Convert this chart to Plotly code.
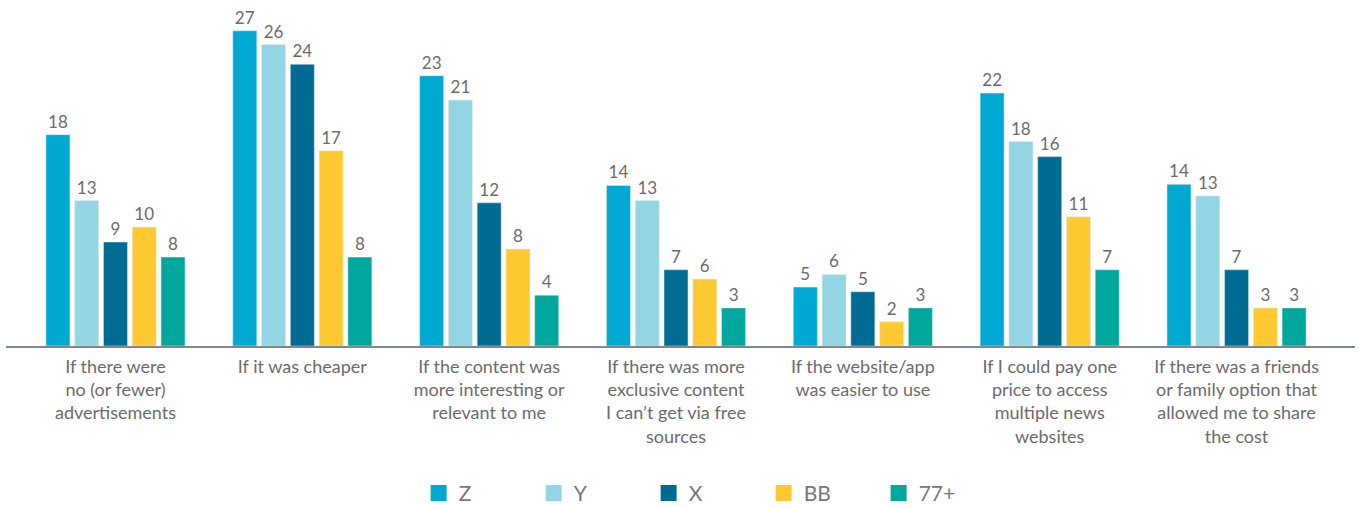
import plotly.graph_objects as go

# categories (x axis labels)
reasons = [
    'If there were<br>no (or fewer)<br>advertisements',
    'If it was cheaper',
    'If the content was<br>more interesting or<br>relevant to me',
    'If there was more<br>exclusive content<br>I can\u2019t get via free<br>sources',
    'If the website/app<br>was easier to use',
    'If I could pay one<br>price to access<br>multiple news<br>websites',
    'If there was a friends<br>or family option that<br>allowed me to share<br>the cost',
]

# series values (labels shown rounded)
gen_z = [18.3, 27.3, 23.4, 13.9, 5.1, 21.9, 14.0]
gen_y = [12.6, 26.1, 21.3, 12.6, 6.2, 17.7, 13.0]
gen_x = [9.0, 24.4, 12.4, 6.6, 4.7, 16.4, 6.6]
boomers = [10.3, 16.9, 8.4, 5.8, 2.1, 11.2, 3.3]
over77 = [7.7, 7.7, 4.4, 3.3, 3.3, 6.6, 3.3]

series_names = ['Z', 'Y', 'X', 'BB', '77+']
series_values = [gen_z, gen_y, gen_x, boomers, over77]
colors = ['#00A9D1', '#94D5E3', '#006B93', '#FFC931', '#00A79D']

LABEL_GREY = '#6b6b6b'
FONT = 'Lato, sans-serif'

fig = go.Figure()

for name, vals, col in zip(series_names, series_values, colors):
    fig.add_trace(go.Bar(x=reasons, y=vals, name=name, marker_color=col,
                         texttemplate='%{y:.0f}', textposition='outside',
                         textfont=dict(size=17, color=LABEL_GREY, family=FONT),
                         cliponaxis=False, showlegend=False))
    # legend entry with a bigger square swatch
    fig.add_trace(go.Scatter(x=[None], y=[None], mode='markers', name=name,
                             marker=dict(symbol='square', size=16, color=col)))

fig.update_xaxes(range=[-0.586, 6.634], showline=True, linecolor='#7f8790', linewidth=2,
                 ticks='', ticklabelstandoff=3, showgrid=False,
                 tickfont=dict(size=18, color=LABEL_GREY, family=FONT))
fig.update_yaxes(range=[0, 28.23], visible=False, showgrid=False)

fig.update_layout(width=1359, height=506, barmode='group', bargap=0.23, bargroupgap=0.165,
                  plot_bgcolor='white', paper_bgcolor='white',
                  margin=dict(l=6, r=4, t=20, b=160),
                  legend=dict(orientation='h', x=0.519, xanchor='center', yref='container',
                              y=0.025, yanchor='middle', entrywidth=70, itemwidth=30,
                              font=dict(size=21, color='#777777', family=FONT)))

# drop the page's default body margin so the figure sits at the window's corner
fig.write_html('out.html', config={'displayModeBar': False},
               post_script="document.body.style.margin='0';")
